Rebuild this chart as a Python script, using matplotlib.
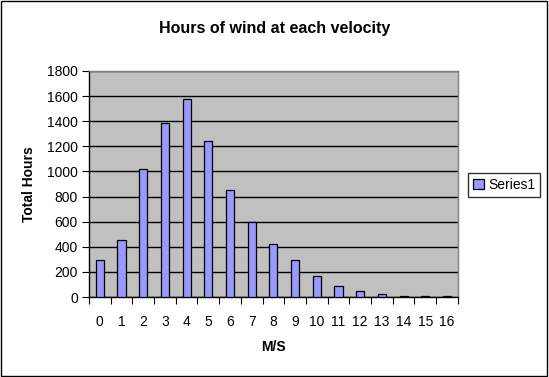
import matplotlib
matplotlib.use('Agg')
import matplotlib.pyplot as plt
import numpy as np

plt.rcParams.update({
    "font.family": ["Liberation Sans", "DejaVu Sans"],
    "font.size": 10,
})

# wind speed bins (m/s) and hours
speeds = [str(i) for i in range(17)]
hours = [295, 455, 1020, 1385, 1575, 1240, 850, 600, 425, 295, 168, 88, 50, 27, 9, 9, 9]
yticks = [0, 200, 400, 600, 800, 1000, 1200, 1400, 1600, 1800]

fig = plt.figure(figsize=(5.49, 3.77), dpi=100)
ax = fig.add_axes([0.162, 0.212, 0.672, 0.600])

x = np.arange(len(speeds))
ax.bar(x, hours, width=0.37, color="#9999ff", edgecolor="black", linewidth=0.9,
       label="Series1", zorder=3)

ax.set_facecolor("#c0c0c0")
ax.set_xlim(-0.5, len(speeds) - 0.5)
ax.set_ylim(0, 1800)
ax.set_yticks(yticks)
ax.yaxis.grid(True, color="black", linewidth=1.0, zorder=1)
ax.set_axisbelow(True)

# ticks sit between the categories, labels centred under bars
ax.set_xticks(np.arange(-0.5, len(speeds), 1.0))
ax.set_xticklabels([])
ax.set_xticks(x, minor=True)
ax.set_xticklabels(speeds, minor=True)
ax.tick_params(axis="x", which="minor", length=0, pad=13)
ax.tick_params(axis="x", which="major", length=5, direction="out", color="black")
ax.tick_params(axis="y", length=5, direction="out", pad=3)

for side in ["top", "right"]:
    ax.spines[side].set_color("#808080")
    ax.spines[side].set_linewidth(1.0)
for side in ["left", "bottom"]:
    ax.spines[side].set_color("black")
    ax.spines[side].set_linewidth(1.0)

ax.set_xlabel("M/S", fontweight="bold", labelpad=8)
ax.set_ylabel("Total Hours", fontweight="bold", labelpad=8)
fig.text(0.5, 0.925, "Hours of wind at each velocity", ha="center", va="center",
         fontsize=11.5, fontweight="bold")

leg = fig.legend(loc="center left", bbox_to_anchor=(0.84, 0.51), frameon=True,
                 fancybox=False, edgecolor="black", handlelength=0.8, handleheight=0.8,
                 handletextpad=0.3, borderpad=0.35)
leg.get_frame().set_linewidth(1.0)

fig.patches.append(plt.Rectangle((0.001, 0.002), 0.996, 0.995, transform=fig.transFigure,
                                 fill=False, edgecolor="black", linewidth=1.0))

fig.savefig("out.png", dpi=100)
